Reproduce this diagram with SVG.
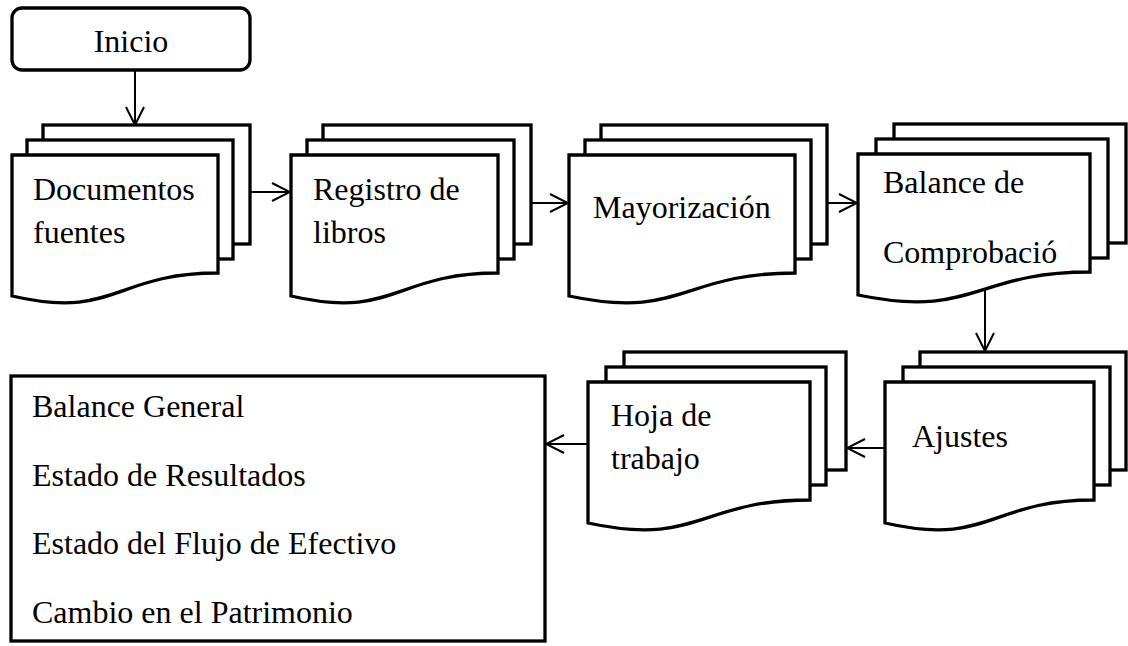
<svg xmlns="http://www.w3.org/2000/svg" width="1128" height="646" viewBox="0 0 1128 646">
<style>
.pg{fill:#fff;stroke:#000;stroke-width:3.3;stroke-linejoin:miter}
.bx{fill:#fff;stroke:#000;stroke-width:3.3}
.t{font-family:"Liberation Serif","Times New Roman",serif;font-size:32px;fill:#000}
.c{fill:none;stroke:#000;stroke-width:2}
</style>
<defs>
<marker id="ah" viewBox="0 0 20 20" refX="19" refY="10" markerWidth="20" markerHeight="20" markerUnits="userSpaceOnUse" orient="auto">
<path d="M1,1 L19,10 L1,19" fill="none" stroke="#000" stroke-width="2"/>
</marker>
</defs>
<rect width="1128" height="646" fill="#fff"/>

<g id="connectors">
<line class="c" x1="135" y1="70" x2="135" y2="125" marker-end="url(#ah)"/>
<line class="c" x1="251" y1="192" x2="290" y2="192" marker-end="url(#ah)"/>
<line class="c" x1="532" y1="203" x2="568" y2="203" marker-end="url(#ah)"/>
<line class="c" x1="828" y1="203" x2="857" y2="203" marker-end="url(#ah)"/>
<line class="c" x1="985" y1="289" x2="985" y2="351" marker-end="url(#ah)"/>
<line class="c" x1="884" y1="448" x2="847" y2="448" marker-end="url(#ah)"/>
<line class="c" x1="587" y1="444" x2="546" y2="444" marker-end="url(#ah)"/>
</g>

<g id="inicio">
<rect class="bx" x="12" y="8" width="238" height="62" rx="10"/>
<text class="t" x="131" y="52" text-anchor="middle">Inicio</text>
</g>

<g id="documentos">
<rect class="pg" x="43" y="125" width="207" height="119"/>
<rect class="pg" x="27" y="140" width="206" height="119"/>
<path class="pg" d="M12,155 H218 V273 C115,273 115,320 12,296 Z"/>
<text class="t" x="33" y="200">Documentos</text>
<text class="t" x="33" y="243">fuentes</text>
</g>

<g id="registro">
<rect class="pg" x="323" y="125" width="208" height="119"/>
<rect class="pg" x="307" y="140" width="207" height="119"/>
<path class="pg" d="M291,155 H498 V273 C394.5,273 394.5,320 291,296 Z"/>
<text class="t" x="313" y="200">Registro de</text>
<text class="t" x="313" y="243">libros</text>
</g>

<g id="mayorizacion">
<rect class="pg" x="601" y="125" width="226" height="119"/>
<rect class="pg" x="585" y="140" width="226" height="119"/>
<path class="pg" d="M569,155 H795 V273 C682,273 682,320 569,296 Z"/>
<text class="t" x="593" y="218">Mayorización</text>
</g>

<g id="balance">
<rect class="pg" x="894" y="124" width="232" height="119"/>
<rect class="pg" x="876" y="139" width="232" height="119"/>
<path class="pg" d="M858,154 H1090 V272 C974,272 974,319 858,295 Z"/>
<text class="t" x="883" y="193">Balance de</text>
<text class="t" x="883" y="263">Comprobació</text>
</g>

<g id="ajustes">
<rect class="pg" x="920" y="352" width="206" height="118"/>
<rect class="pg" x="903" y="367" width="207" height="118"/>
<path class="pg" d="M885,382 H1094 V500 C989.5,500 989.5,547 885,523 Z"/>
<text class="t" x="912" y="447">Ajustes</text>
</g>

<g id="hoja">
<rect class="pg" x="624" y="352" width="222" height="118"/>
<rect class="pg" x="606" y="367" width="220" height="118"/>
<path class="pg" d="M588,382 H810 V500 C699,500 699,547 588,523 Z"/>
<text class="t" x="611" y="426">Hoja de</text>
<text class="t" x="611" y="469">trabajo</text>
</g>

<g id="estados">
<rect class="bx" x="11" y="376" width="534" height="265"/>
<text class="t" x="32" y="417">Balance General</text>
<text class="t" x="32" y="486">Estado de Resultados</text>
<text class="t" x="32" y="554">Estado del Flujo de Efectivo</text>
<text class="t" x="32" y="623">Cambio en el Patrimonio</text>
</g>
</svg>
